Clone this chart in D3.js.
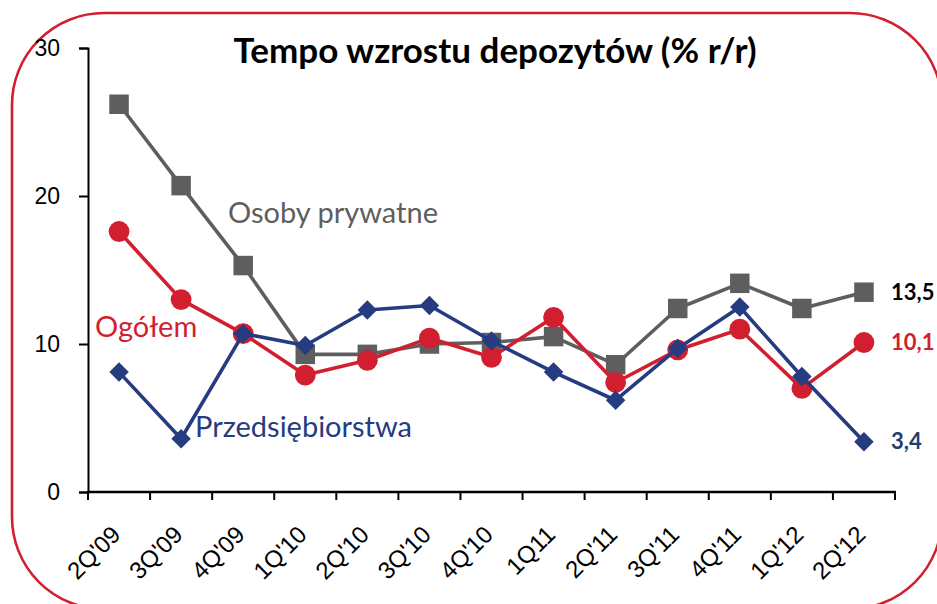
<!DOCTYPE html>
<html>
<head>
<meta charset="utf-8">
<script src="https://cdn.jsdelivr.net/npm/d3@7"></script>
<style>
  body { margin: 0; background: #fff; }
  svg { display: block; }
</style>
</head>
<body>
<svg id="chart" width="937" height="604"></svg>
<script>
// quarters on the x axis
const quarters = ["2Q'09", "3Q'09", "4Q'09", "1Q'10", "2Q'10", "3Q'10", "4Q'10",
  "1Q11", "2Q'11", "3Q'11", "4Q'11", "1Q'12", "2Q'12"];
// series values (% y/y)
const osobyPrywatne = [26.2, 20.7, 15.3, 9.3, 9.3, 10.0, 10.1, 10.5, 8.6, 12.4, 14.1, 12.4, 13.5];
const ogolem = [17.6, 13.0, 10.7, 7.9, 8.9, 10.4, 9.1, 11.8, 7.4, 9.6, 11.0, 7.0, 10.1];
const przedsiebiorstwa = [8.1, 3.6, 10.7, 9.9, 12.3, 12.6, 10.2, 8.1, 6.2, 9.7, 12.5, 7.8, 3.4];
const yTicks = [0, 10, 20, 30];

const svg = d3.select("#chart");

// rounded red frame
svg.append("rect")
  .attr("x", 12).attr("y", 13)
  .attr("width", 930).attr("height", 596)
  .attr("rx", 92).attr("ry", 92)
  .attr("fill", "none")
  .attr("stroke", "#d21f30")
  .attr("stroke-width", 2.6);

const x = d3.scaleBand().domain(quarters).range([88, 895]);
const y = d3.scaleLinear().domain([0, 30]).range([492, 48]);

// y axis
const yAxis = svg.append("g")
  .attr("transform", "translate(88,0)")
  .call(d3.axisLeft(y).tickValues(yTicks).tickSize(9).tickPadding(19).tickFormat(d3.format("d")));
yAxis.select(".domain").attr("stroke", "#000").attr("stroke-width", 2);
yAxis.selectAll(".tick line").attr("stroke", "#000").attr("stroke-width", 2);
yAxis.selectAll("text")
  .attr("font-family", "Liberation Sans, Arial, sans-serif")
  .attr("font-size", 23)
  .attr("fill", "#000");

// x axis: ticks between the quarters
const xAxisG = svg.append("g");
xAxisG.append("line")
  .attr("x1", 87).attr("x2", 896)
  .attr("y1", 492).attr("y2", 492)
  .attr("stroke", "#000").attr("stroke-width", 2.6);
const edges = quarters.map((q) => x(q)).concat([x.range()[1]]);
xAxisG.selectAll("line.tk")
  .data(edges)
  .enter().append("line")
  .attr("class", "tk")
  .attr("x1", (d) => d).attr("x2", (d) => d)
  .attr("y1", 492).attr("y2", 500)
  .attr("stroke", "#000").attr("stroke-width", 2);
xAxisG.selectAll("text")
  .data(quarters)
  .enter().append("text")
  .attr("transform", (d) => "translate(" + (x(d) + x.bandwidth() / 2 + 3) + ",536) rotate(-45)")
  .attr("text-anchor", "end")
  .attr("font-family", "Liberation Sans, Arial, sans-serif")
  .attr("font-size", 24)
  .attr("fill", "#000")
  .text((d) => d);

const cx = (d, i) => x(quarters[i]) + x.bandwidth() / 2;
const line = d3.line().x(cx).y((d) => y(d));

const series = [
  { name: "osoby", values: osobyPrywatne, color: "#5e5e5e", marker: "square" },
  { name: "ogolem", values: ogolem, color: "#d21f30", marker: "circle" },
  { name: "przeds", values: przedsiebiorstwa, color: "#263c80", marker: "diamond" },
];

series.forEach((s) => {
  const g = svg.append("g");
  g.append("path")
    .attr("d", line(s.values))
    .attr("fill", "none")
    .attr("stroke", s.color)
    .attr("stroke-width", 3.6)
    .attr("stroke-linejoin", "round");
  let sym;
  if (s.marker === "square") sym = d3.symbol(d3.symbolSquare, 380);
  else if (s.marker === "circle") sym = d3.symbol(d3.symbolCircle, 340);
  else sym = d3.symbol(d3.symbolSquare, 190);
  g.selectAll("path.m")
    .data(s.values)
    .enter().append("path")
    .attr("class", "m")
    .attr("transform", (d, i) => "translate(" + cx(d, i) + "," + y(d) + ")" + (s.marker === "diamond" ? " rotate(45)" : ""))
    .attr("d", sym())
    .attr("fill", s.color);
});

// title
svg.append("text")
  .attr("x", 495).attr("y", 63)
  .attr("text-anchor", "middle")
  .attr("font-family", "Lato, sans-serif")
  .attr("font-weight", "bold")
  .attr("font-size", 35)
  .attr("fill", "#000")
  .text("Tempo wzrostu depozytów (% r/r)");

// series labels
const labelFont = "Lato, sans-serif";
svg.append("text")
  .attr("x", 228).attr("y", 223)
  .attr("font-family", labelFont).attr("font-size", 29)
  .attr("fill", "#5e5e5e")
  .text("Osoby prywatne");
svg.append("text")
  .attr("x", 95).attr("y", 337)
  .attr("font-family", labelFont).attr("font-size", 29)
  .attr("fill", "#d21f30")
  .text("Ogółem");
svg.append("text")
  .attr("x", 195).attr("y", 437)
  .attr("font-family", labelFont).attr("font-size", 29)
  .attr("fill", "#263c80")
  .text("Przedsiębiorstwa");

// end value labels
const last = quarters.length - 1;
const endLabels = [
  { v: osobyPrywatne[last], color: "#000" },
  { v: ogolem[last], color: "#d21f30" },
  { v: przedsiebiorstwa[last], color: "#1c3d6e" },
];
svg.selectAll("text.end")
  .data(endLabels)
  .enter().append("text")
  .attr("class", "end")
  .attr("x", 891)
  .attr("y", (d) => y(d.v))
  .attr("dy", "0.35em")
  .attr("font-family", "Lato, sans-serif")
  .attr("font-weight", "bold")
  .attr("font-size", 22)
  .attr("fill", (d) => d.color)
  .text((d) => d3.format(".1f")(d.v).replace(".", ","));
</script>
</body>
</html>
